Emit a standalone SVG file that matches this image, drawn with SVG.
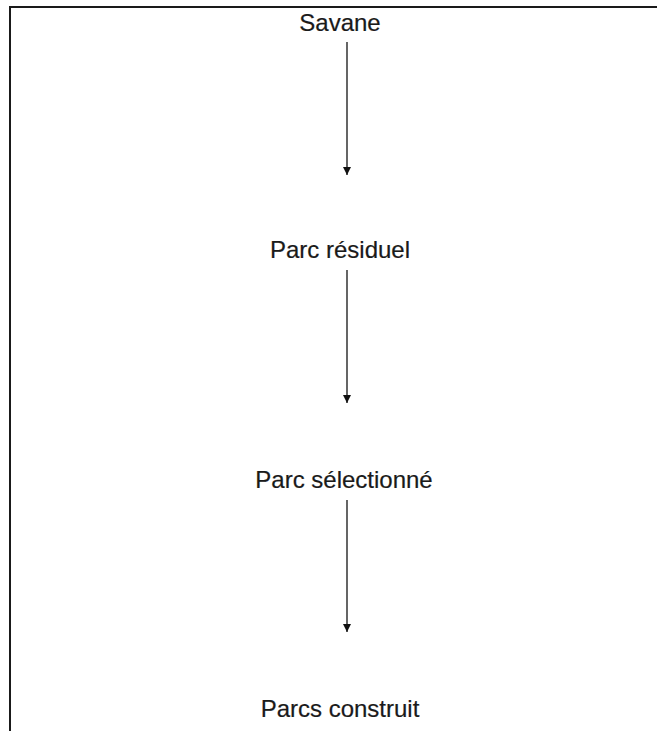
<svg xmlns="http://www.w3.org/2000/svg" width="657" height="731" viewBox="0 0 657 731">
<style>
.lbl{font-family:"Liberation Sans",Arial,sans-serif;font-size:24px;fill:#1a1a1a;text-anchor:middle;stroke:#1a1a1a;stroke-width:0.2}
.con{stroke:#555;stroke-width:1.8;fill:none}
.frame{stroke:#1a1a1a;stroke-width:2;fill:none}
</style>
<defs>
<marker id="ah" viewBox="0 0 8 8" refX="8" refY="4" markerWidth="8" markerHeight="8" markerUnits="userSpaceOnUse" orient="auto">
<path d="M0,0 L8,4 L0,8 Z" fill="#111"/>
</marker>
</defs>
<rect width="657" height="731" fill="#fff"/>
<path class="frame" d="M10,731 L10,7 L657,7"/>
<g id="connectors">
<line class="con" x1="347" y1="42" x2="347" y2="175" marker-end="url(#ah)"/>
<line class="con" x1="347" y1="270" x2="347" y2="403" marker-end="url(#ah)"/>
<line class="con" x1="347" y1="500" x2="347" y2="632" marker-end="url(#ah)"/>
</g>
<g id="savane"><text class="lbl" x="340" y="31">Savane</text></g>
<g id="parc-residuel"><text class="lbl" x="340" y="258">Parc résiduel</text></g>
<g id="parc-selectionne"><text class="lbl" x="344" y="488">Parc sélectionné</text></g>
<g id="parcs-construit"><text class="lbl" x="340" y="717">Parcs construit</text></g>
</svg>
